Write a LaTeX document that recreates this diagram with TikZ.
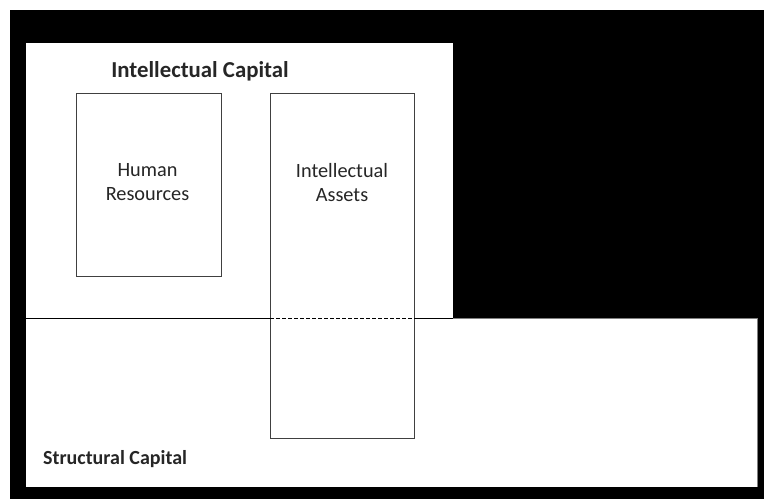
\documentclass[tikz,border=0pt]{standalone}
\usepackage{fontspec}
\setmainfont{Carlito}
\begin{document}
\begin{tikzpicture}[x=1pt,y=-1pt,
  box/.style={draw=black!75, line width=1.4pt, inner sep=0pt, anchor=north west},
  boxtext/.style={align=center, inner sep=0pt, text=black!85, font=\fontsize{20.3}{24}\selectfont},
  title/.style={inner sep=0pt, text=black!85, font=\bfseries\fontsize{22.8}{26}\selectfont},
  sublabel/.style={inner sep=0pt, text=black!85, anchor=west, font=\bfseries\fontsize{20}{24}\selectfont},
  divider/.style={black, line width=0.9pt}
]
\useasboundingbox (0,0) rectangle (764,499);
\fill[white] (0,0) rectangle (764,499);
\fill[black] (10,10) rectangle (764,499);
\fill[white] (26,43) rectangle (453,318);
\fill[white] (26,318) rectangle (757,487);
\draw[black!50, line width=0.5pt] (453,318) -- (757,318) -- (757,487);
\node[box, minimum width=145pt, minimum height=183pt] (hr) at (75.5,93) {};
\node[box, minimum width=144pt, minimum height=345pt] (ia) at (270,93) {};
\node[boxtext] (hrt) at (147.5,182) {Human\\Resources};
\node[boxtext] (iat) at (342,183) {Intellectual\\Assets};
\node[title] (ic) at (200,71) {Intellectual Capital};
\node[sublabel] (sc) at (43,459) {Structural Capital};
\coordinate (l0) at (26,318);
\coordinate (l1) at (453,318);
\draw[divider] (l0) -- (l0 -| ia.west);
\draw[divider, dash pattern=on 4pt off 2pt] (l0 -| ia.west) -- (l0 -| ia.east);
\draw[divider] (l0 -| ia.east) -- (l1);
\end{tikzpicture}
\end{document}
